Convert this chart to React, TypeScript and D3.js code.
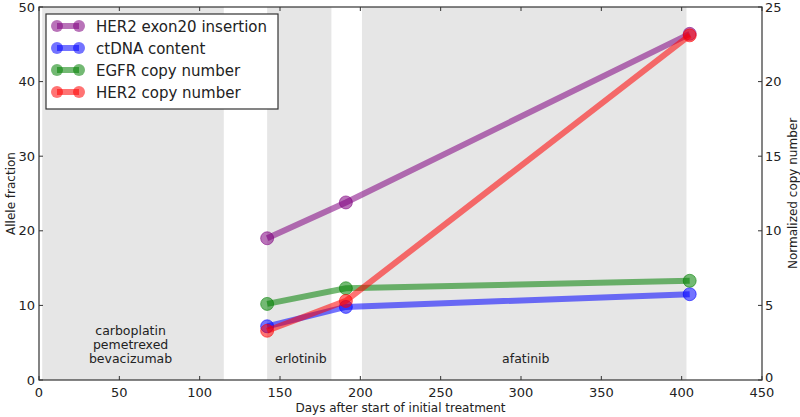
import React, { useEffect, useRef } from 'react';
import * as d3 from 'd3';

const days = [142, 191, 405];
const her2Exon20 = [19.0, 23.8, 46.4];
const ctDNA = [7.2, 9.8, 11.5];
const egfrCopy = [5.1, 6.15, 6.65];
const her2Copy = [3.3, 5.3, 23.1];

const xTicks = [0, 50, 100, 150, 200, 250, 300, 350, 400, 450];
const leftTicks = [0, 10, 20, 30, 40, 50];
const rightTicks = [0, 5, 10, 15, 20, 25];

const treatments = [
  { start: 2, end: 115, label: ['carboplatin', 'pemetrexed', 'bevacizumab'], at: 57 },
  { start: 142, end: 182, label: ['erlotinib'], at: 163 },
  { start: 201, end: 403, label: ['afatinib'], at: 303 },
];

const series = [
  { name: 'HER2 exon20 insertion', color: '#800080', values: her2Exon20, axis: 'left' },
  { name: 'ctDNA content', color: '#0000ff', values: ctDNA, axis: 'left' },
  { name: 'EGFR copy number', color: '#008000', values: egfrCopy, axis: 'right' },
  { name: 'HER2 copy number', color: '#ff0000', values: her2Copy, axis: 'right' },
];

const W = 800;
const H = 417;
const margin = { top: 7, right: 38, bottom: 37, left: 39 };

const App = () => {
  const ref = useRef<SVGSVGElement>(null);

  useEffect(() => {
    const svg = d3.select(ref.current);
    svg.selectAll('*').remove();
    const font = 'DejaVu Sans, sans-serif';

    const x = d3.scaleLinear().domain([0, 450]).range([margin.left, W - margin.right]);
    const yL = d3.scaleLinear().domain([0, 50]).range([H - margin.bottom, margin.top]);
    const yR = d3.scaleLinear().domain([0, 25]).range([H - margin.bottom, margin.top]);
    const top = margin.top;
    const bottom = H - margin.bottom;

    // shaded treatment periods
    svg.append('g')
      .selectAll('rect')
      .data(treatments)
      .enter()
      .append('rect')
        .attr('x', d => x(d.start))
        .attr('y', top)
        .attr('width', d => x(d.end) - x(d.start))
        .attr('height', bottom - top)
        .attr('fill', '#e6e6e6');

    const labels = svg.append('g')
      .attr('font-family', font)
      .attr('font-size', 12.5)
      .attr('fill', '#222')
      .attr('text-anchor', 'middle');
    treatments.forEach(t => {
      t.label.forEach((line, i) => {
        labels.append('text')
          .attr('x', x(t.at))
          .attr('y', 363 - (t.label.length - 1 - i) * 14)
          .text(line);
      });
    });

    // lines
    const plot = svg.append('g');
    series.forEach(s => {
      const y = s.axis === 'left' ? yL : yR;
      const pts = days.map((d, i) => [x(d), y(s.values[i])] as [number, number]);
      plot.append('path')
        .attr('d', d3.line()(pts))
        .attr('fill', 'none')
        .attr('stroke', s.color)
        .attr('stroke-opacity', 0.55)
        .attr('stroke-width', 6);
      plot.selectAll(null)
        .data(pts)
        .enter()
        .append('circle')
          .attr('cx', d => d[0])
          .attr('cy', d => d[1])
          .attr('r', 6.5)
          .attr('fill', s.color)
          .attr('fill-opacity', 0.55)
          .attr('stroke', s.color)
          .attr('stroke-opacity', 0.55)
          .attr('stroke-width', 1);
    });

    // frame
    svg.append('rect')
      .attr('x', margin.left)
      .attr('y', top)
      .attr('width', x(450) - x(0))
      .attr('height', bottom - top)
      .attr('fill', 'none')
      .attr('stroke', '#333')
      .attr('stroke-width', 1.2);

    const ticks = svg.append('g').attr('stroke', '#333').attr('stroke-width', 1);
    xTicks.forEach(t => {
      ticks.append('line').attr('x1', x(t)).attr('x2', x(t)).attr('y1', bottom).attr('y2', bottom - 4);
      ticks.append('line').attr('x1', x(t)).attr('x2', x(t)).attr('y1', top).attr('y2', top + 4);
    });
    leftTicks.forEach(t => {
      ticks.append('line').attr('x1', margin.left).attr('x2', margin.left + 4).attr('y1', yL(t)).attr('y2', yL(t));
    });
    rightTicks.forEach(t => {
      ticks.append('line').attr('x1', W - margin.right).attr('x2', W - margin.right - 4).attr('y1', yR(t)).attr('y2', yR(t));
    });

    const tl = svg.append('g')
      .attr('font-family', font)
      .attr('font-size', 13)
      .attr('fill', '#222');
    xTicks.forEach(t => {
      tl.append('text').attr('x', x(t)).attr('y', bottom + 17).attr('text-anchor', 'middle').text(t);
    });
    leftTicks.forEach(t => {
      tl.append('text').attr('x', margin.left - 4).attr('y', yL(t) + 4.5).attr('text-anchor', 'end').text(t);
    });
    rightTicks.forEach(t => {
      tl.append('text')
        .attr('x', W - margin.right + 3)
        .attr('y', yR(t) + (t === 0 ? 2 : 4.5))
        .attr('text-anchor', 'start')
        .text(t);
    });

    // axis titles
    const at = svg.append('g').attr('font-family', font).attr('font-size', 12).attr('fill', '#222');
    at.append('text')
      .attr('x', (x(0) + x(450)) / 2)
      .attr('y', 412)
      .attr('text-anchor', 'middle')
      .text('Days after start of initial treatment');
    at.append('text')
      .attr('transform', `translate(15, ${(top + bottom) / 2}) rotate(-90)`)
      .attr('text-anchor', 'middle')
      .text('Allele fraction');
    at.append('text')
      .attr('transform', `translate(797, ${(top + bottom) / 2}) rotate(-90)`)
      .attr('text-anchor', 'middle')
      .text('Normalized copy number');

    // legend
    const lg = svg.append('g').attr('transform', 'translate(46, 14)');
    lg.append('rect')
      .attr('width', 232)
      .attr('height', 95)
      .attr('fill', 'white')
      .attr('stroke', '#333')
      .attr('stroke-width', 1.2);
    series.forEach((s, i) => {
      const row = lg.append('g').attr('transform', `translate(0, ${12 + i * 22})`);
      row.append('line')
        .attr('x1', 11).attr('x2', 33)
        .attr('y1', 0).attr('y2', 0)
        .attr('stroke', s.color)
        .attr('stroke-opacity', 0.55)
        .attr('stroke-width', 6);
      [11, 33].forEach(cx => {
        row.append('circle')
          .attr('cx', cx).attr('cy', 0).attr('r', 6)
          .attr('fill', s.color).attr('fill-opacity', 0.55);
      });
      row.append('text')
        .attr('x', 50)
        .attr('y', 5.5)
        .attr('font-family', font)
        .attr('font-size', 15)
        .attr('fill', '#222')
        .text(s.name);
    });
  }, []);

  return (
    <svg ref={ref} width={W} height={H} style={{ position: 'absolute', left: 0, top: 0, background: 'white' }} />
  );
};

export default App;
